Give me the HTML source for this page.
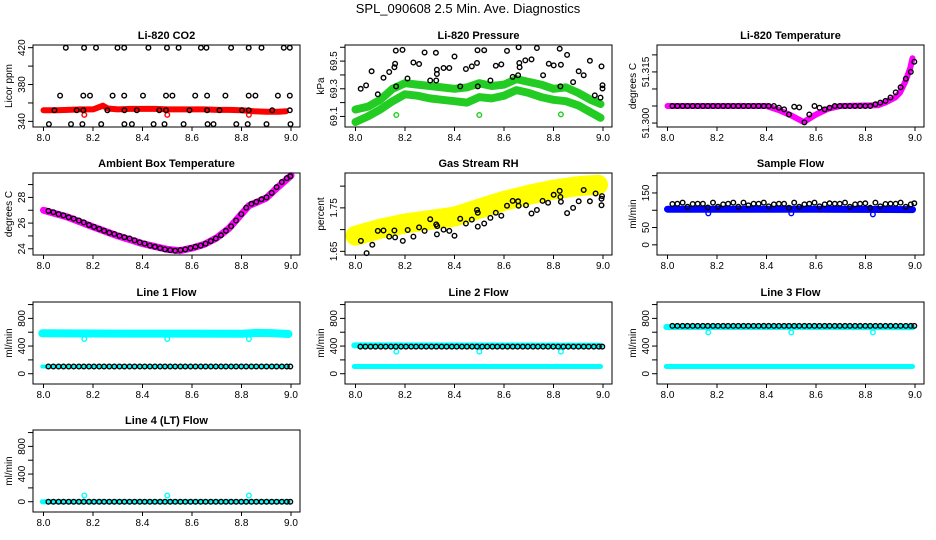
<!DOCTYPE html>
<html><head><meta charset="utf-8">
<style>
html,body{margin:0;padding:0;background:#fff;}
svg{display:block;font-family:"Liberation Sans",Arial,sans-serif;}
</style></head>
<body>
<svg id="chart" width="936" height="540" viewBox="0 0 936 540" xmlns="http://www.w3.org/2000/svg">
<text x="468" y="13" text-anchor="middle" font-size="13">SPL_090608  2.5 Min. Ave. Diagnostics</text>
</svg>
<script>
// ---- shared sample times (black markers) ----
const sampleTimes=[8.020,8.040,8.061,8.081,8.102,8.122,8.143,8.163,8.184,8.204,8.225,8.245,8.266,8.286,8.307,8.327,8.348,8.368,8.389,8.409,8.430,8.450,8.471,8.491,8.512,8.532,8.553,8.573,8.594,8.614,8.635,8.655,8.676,8.696,8.717,8.737,8.758,8.778,8.799,8.819,8.840,8.860,8.881,8.901,8.922,8.942,8.963,8.983,8.997];
const outlierTimes=[8.165,8.5,8.83];
const xTicks=[8.0,8.2,8.4,8.6,8.8,9.0];
const xTickLabels=["8.0","8.2","8.4","8.6","8.8","9.0"];

// ---- CO2 ----
const co2BandX=[8.0,8.05,8.1,8.15,8.2,8.22,8.24,8.26,8.3,8.35,8.4,8.45,8.5,8.55,8.6,8.65,8.7,8.75,8.8,8.85,8.9,8.95,8.98];
const co2BandY=[352,352,352.5,353,353,355,357,354,353,353.5,353.5,353.5,353,353,353,353,352.5,352.5,352,351,350.5,350.5,351];
const co2OutY=[347,347,347];
const co2BlackX=[8.09,8.164,8.212,8.299,8.326,8.424,8.499,8.546,8.636,8.658,8.758,8.829,8.881,8.971,8.995,
8.067,8.161,8.188,8.279,8.326,8.402,8.495,8.521,8.613,8.661,8.735,8.829,8.856,8.947,8.995,
8.044,8.134,8.161,8.258,8.327,8.377,8.468,8.495,8.59,8.661,8.711,8.802,8.829,8.924,8.995,
8.022,8.111,8.157,8.233,8.327,8.357,8.445,8.489,8.566,8.663,8.687,8.779,8.825,8.901,8.998];
const co2BlackY=[420,420,420,420,420,420,420,420,420,420,420,420,420,420,420,
368,368,368,368,368,368,368,368,368,368,368,368,368,368,368,
352,352,352,352,352,352,352,352,352,352,352,352,352,352,352,
337,337,337,337,337,337,337,337,337,337,337,337,337,337,337];

// ---- Pressure ----
const presBandX=[8.0,8.05,8.1,8.15,8.2,8.25,8.3,8.35,8.4,8.45,8.5,8.55,8.6,8.65,8.7,8.75,8.8,8.85,8.9,8.95,8.99];
const presUpperY=[69.15,69.17,69.22,69.30,69.34,69.33,69.32,69.31,69.30,69.31,69.34,69.32,69.33,69.37,69.35,69.33,69.30,69.31,69.27,69.22,69.19];
const presLowerY=[69.06,69.10,69.15,69.21,69.26,69.25,69.23,69.22,69.21,69.20,69.24,69.23,69.25,69.29,69.27,69.24,69.22,69.21,69.18,69.13,69.09];
const presOutY=[69.11,69.11,69.115];
const presBlackX=[8.021,8.043,8.065,8.090,8.113,8.136,8.157,8.160,8.163,8.164,8.190,8.210,8.234,8.257,8.279,8.302,8.325,8.326,8.329,8.329,8.356,8.379,8.400,8.423,8.446,8.470,8.491,8.493,8.494,8.520,8.545,8.567,8.589,8.612,8.635,8.657,8.659,8.662,8.663,8.686,8.711,8.733,8.758,8.781,8.801,8.825,8.828,8.830,8.855,8.879,8.902,8.922,8.947,8.967,8.990,8.994,8.998,8.998];
const presBlackY=[69.300,69.324,69.426,69.260,69.379,69.421,69.455,69.481,69.576,69.317,69.581,69.374,69.490,69.479,69.562,69.360,69.560,69.360,69.438,69.407,69.450,69.450,69.533,69.317,69.443,69.462,69.486,69.579,69.317,69.579,69.360,69.467,69.476,69.574,69.386,69.398,69.600,69.486,69.455,69.505,69.512,69.595,69.398,69.481,69.469,69.590,69.317,69.474,69.545,69.348,69.426,69.398,69.502,69.252,69.236,69.462,69.326,69.302];

// ---- Li-820 Temperature ----
const tempBandX=[8.0,8.2,8.4,8.45,8.5,8.55,8.6,8.65,8.7,8.85,8.88,8.92,8.94,8.96,8.98,8.99];
const tempBandY=[51.305,51.305,51.305,51.3038,51.3022,51.3003,51.3025,51.3042,51.305,51.3052,51.306,51.3075,51.309,51.312,51.316,51.319];
const tempBlackY=[51.305,51.305,51.305,51.305,51.305,51.305,51.305,51.305,51.305,51.305,51.305,51.305,51.305,51.305,51.305,51.305,51.305,51.305,51.305,51.305,51.305,51.3045,51.304,51.3025,51.3048,51.3046,51.3002,51.3025,51.305,51.3045,51.304,51.3045,51.305,51.305,51.305,51.305,51.305,51.305,51.305,51.305,51.3055,51.306,51.3065,51.3075,51.309,51.3105,51.313,51.315,51.318];

// ---- Ambient Box Temperature ----
const ambBandX=[8.0,8.1,8.2,8.3,8.4,8.5,8.55,8.6,8.65,8.7,8.75,8.8,8.83,8.86,8.9,8.95,9.0];
const ambBandY=[27.0,26.45,25.7,25.0,24.4,23.95,23.85,24.05,24.35,24.85,25.6,26.7,27.35,27.6,27.95,28.85,29.7];
const ambBlackY=[26.95,26.85,26.7,26.6,26.45,26.35,26.2,26.05,25.85,25.7,25.55,25.4,25.25,25.15,25.0,24.9,24.8,24.65,24.5,24.4,24.25,24.15,24.05,23.95,23.9,23.85,23.9,23.95,24.05,24.15,24.25,24.4,24.6,24.8,25.05,25.4,25.75,26.2,26.7,27.2,27.5,27.65,27.85,28.0,28.35,28.8,29.2,29.5,29.65];

// ---- Gas Stream RH ----
const rhBandX=[8.0,8.1,8.2,8.3,8.4,8.5,8.6,8.7,8.8,8.9,8.98];
const rhBandY=[1.686,1.702,1.714,1.722,1.730,1.748,1.766,1.780,1.792,1.800,1.803];
const rhBlackX=[8.022,8.045,8.068,8.090,8.113,8.136,8.157,8.160,8.191,8.211,8.234,8.257,8.279,8.302,8.326,8.329,8.330,8.356,8.379,8.400,8.423,8.446,8.470,8.491,8.494,8.494,8.520,8.545,8.567,8.589,8.612,8.635,8.657,8.659,8.689,8.711,8.733,8.756,8.778,8.801,8.825,8.828,8.830,8.855,8.879,8.902,8.922,8.947,8.970,8.994,8.994,8.996];
const rhBlackY=[1.674,1.646,1.665,1.697,1.698,1.684,1.698,1.682,1.674,1.699,1.684,1.705,1.697,1.724,1.712,1.689,1.708,1.700,1.697,1.686,1.725,1.714,1.723,1.745,1.707,1.739,1.714,1.727,1.739,1.732,1.755,1.766,1.765,1.755,1.756,1.737,1.745,1.766,1.762,1.780,1.789,1.775,1.764,1.738,1.750,1.765,1.791,1.765,1.783,1.771,1.756,1.777];

// ---- Sample Flow ----
const sfBandX=[8.0,8.3,8.6,8.99];
const sfBandY=[103,103,103,102];
const sfOutY=[91,91,88];
const sfBlackY=[118,119,122,110,118,119,119,108,122,110,117,119,122,110,122,114,119,119,122,111,117,119,119,107,122,110,117,119,122,111,117,120,119,119,122,110,117,119,120,107,122,111,118,119,119,122,110,117,120];

// ---- Line flows ----
const l1UpperX=[7.995,8.2,8.4,8.6,8.8,8.86,8.92,8.99];
const l1UpperY=[585,582,580,580,578,590,588,575];
const lowerBandX=[7.995,8.99];
const l1LowerY=[105,105];
const l1OutY=[502,502,502];
const l1BlackY=[105,105,105,105,105,105,105,105,105,105,105,105,105,105,105,105,105,105,105,105,105,105,105,105,105,105,105,105,105,105,105,105,105,105,105,105,105,105,105,105,105,105,105,105,105,105,105,105,105];
const l2UpperX=[7.995,8.5,8.99];
const l2UpperY=[410,408,405];
const l2LowerY=[105,105];
const l2OutY=[320,320,320];
const l2BlackY=[392,392,392,392,392,392,392,392,392,392,392,392,392,392,392,392,392,392,392,392,392,392,392,392,392,392,392,392,392,392,392,392,392,392,392,392,392,392,392,392,392,392,392,392,392,392,392,392,392];
const l3UpperX=[7.995,8.5,8.99];
const l3UpperY=[675,675,672];
const l3LowerY=[105,105];
const l3OutY=[598,598,598];
const l3BlackY=[692,692,692,692,692,692,692,692,692,692,692,692,692,692,692,692,692,692,692,692,692,692,692,692,692,692,692,692,692,692,692,692,692,692,692,692,692,692,692,692,692,692,692,692,692,692,692,692,692];
const l4BandY=[0,0];
const l4OutY=[90,90,90];
const l4BlackY=[0,0,0,0,0,0,0,0,0,0,0,0,0,0,0,0,0,0,0,0,0,0,0,0,0,0,0,0,0,0,0,0,0,0,0,0,0,0,0,0,0,0,0,0,0,0,0,0,0];

// ---- drawing ----
const NS="http://www.w3.org/2000/svg";
const svg=document.getElementById('chart');
const colLeft=[33,345,657], rowTop=[45,173,302,430], BW=267, BH=82;
function el(tag,attrs,parent){const e=document.createElementNS(NS,tag);for(const k in attrs)e.setAttribute(k,attrs[k]);(parent||svg).appendChild(e);return e;}

function makePanel(col,row,title,ylab,ymin,ymax,yTicks,yLabels,key){
  const L=colLeft[col],T=rowTop[row];
  const g=el('g',{});
  
  
  const p={L,T,g,sx:x=>L+10.5+(x-8)*247.5,sy:y=>T+BH-(y-ymin)/(ymax-ymin)*BH};
  const t=el('text',{x:L+BW/2,y:T-6,'text-anchor':'middle','font-size':11,'font-weight':'bold'},g);
  t.textContent=title;
  
  
  const yl=el('text',{x:0,y:0,'text-anchor':'middle','font-size':10,transform:`translate(${L-21},${T+BH/2}) rotate(-90)`},g);
  yl.textContent=ylab;
  
  
  xTicks.forEach((v,i)=>{
    const X=p.sx(v);
    const tk=el('line',{x1:X,x2:X,y1:T+BH,y2:T+BH+4,stroke:'#000','stroke-width':1},g);
    
    
    const lb=el('text',{x:X,y:T+BH+14,'text-anchor':'middle','font-size':10},g);
    lb.textContent=xTickLabels[i];
    
    
  });
  yTicks.forEach((v,i)=>{
    const Y=p.sy(v);
    const tk=el('line',{x1:L-5,x2:L,y1:Y,y2:Y,stroke:'#000','stroke-width':1},g);
    
    
    if(yLabels[i]){
      const lb=el('text',{x:0,y:0,'text-anchor':'middle','font-size':10,transform:`translate(${L-8},${Y}) rotate(-90)`},g);
      lb.textContent=yLabels[i];
      
      
    }
  });
  p.marks=el('g',{},g);
  
  
  const box=el('rect',{x:L,y:T,width:BW,height:BH,fill:'none',stroke:'#000','stroke-width':1},g);
  
  
  return p;
}
function band(p,xs,ys,color,w,name){
  const pts=xs.map((x,i)=>p.sx(x).toFixed(1)+','+p.sy(ys[i]).toFixed(1)).join(' ');
  const pl=el('polyline',{points:pts,fill:'none',stroke:color,'stroke-width':w,'stroke-linejoin':'round','stroke-linecap':'round'},p.marks);
  
  
}
function points(p,xs,ys,color,name){
  xs.forEach((x,i)=>{
    const c=el('circle',{cx:p.sx(x).toFixed(1),cy:p.sy(ys[i]).toFixed(1),r:2.3,fill:'none',stroke:color,'stroke-width':1.4},p.marks);
    
    
  });
}

const flowTicks=[0,200,400,600,800,1000], flowLabels=['0','','400','','800',''];

let p=makePanel(0,0,'Li-820 CO2','Licor ppm',333.9,422.9,[340,360,380,400,420],['340','','380','','420'],'co2');
band(p,co2BandX,co2BandY,'#ff0000',6,'co2-band');
points(p,outlierTimes,co2OutY,'#ff0000','co2-outlier');
points(p,co2BlackX,co2BlackY,'#000','co2-point');

p=makePanel(1,0,'Li-820 Pressure','kPa',69.0236,69.6164,[69.1,69.2,69.3,69.4,69.5,69.6],['69.1','','69.3','','69.5',''],'pressure');
band(p,presBandX,presUpperY,'#22cc22',8,'pressure-upper-band');
band(p,presBandX,presLowerY,'#22cc22',8,'pressure-lower-band');
points(p,outlierTimes,presOutY,'#22cc22','pressure-outlier');
points(p,presBlackX,presBlackY,'#000','pressure-point');

p=makePanel(2,0,'Li-820 Temperature','degrees C',51.29884,51.3229,[51.300,51.305,51.310,51.315,51.320],['51.300','','','51.315',''],'li820-temp');
band(p,tempBandX,tempBandY,'#ff00ff',6,'li820-temp-band');
points(p,sampleTimes,tempBlackY,'#000','li820-temp-point');

p=makePanel(0,1,'Ambient Box Temperature','degrees C',23.515,29.9,[24,25,26,27,28,29],['24','','26','','28',''],'ambient');
band(p,ambBandX,ambBandY,'#ff00ff',7,'ambient-band');
points(p,sampleTimes,ambBlackY,'#000','ambient-point');

p=makePanel(1,1,'Gas Stream RH','percent',1.6416,1.8302,[1.65,1.70,1.75,1.80],['1.65','','1.75',''],'rh');
band(p,rhBandX,rhBandY,'#ffff00',20,'rh-band');
points(p,rhBlackX,rhBlackY,'#000','rh-point');

p=makePanel(2,1,'Sample Flow','ml/min',-29.4,207.7,[0,50,100,150,200],['0','50','','150',''],'sample-flow');
band(p,sfBandX,sfBandY,'#0000ff',7,'sample-flow-band');
points(p,outlierTimes,sfOutY,'#0000ff','sample-flow-outlier');
points(p,sampleTimes,sfBlackY,'#000','sample-flow-point');

p=makePanel(0,2,'Line 1 Flow','ml/min',-148.6,1037,flowTicks,flowLabels,'line1');
band(p,l1UpperX,l1UpperY,'#00ffff',8,'line1-upper-band');
band(p,lowerBandX,l1LowerY,'#00ffff',4,'line1-lower-band');
points(p,outlierTimes,l1OutY,'#00ffff','line1-outlier');
points(p,sampleTimes,l1BlackY,'#000','line1-point');

p=makePanel(1,2,'Line 2 Flow','ml/min',-148.6,1037,flowTicks,flowLabels,'line2');
band(p,l2UpperX,l2UpperY,'#00ffff',6,'line2-upper-band');
band(p,lowerBandX,l2LowerY,'#00ffff',5,'line2-lower-band');
points(p,outlierTimes,l2OutY,'#00ffff','line2-outlier');
points(p,sampleTimes,l2BlackY,'#000','line2-point');

p=makePanel(2,2,'Line 3 Flow','ml/min',-148.6,1037,flowTicks,flowLabels,'line3');
band(p,l3UpperX,l3UpperY,'#00ffff',6,'line3-upper-band');
band(p,lowerBandX,l3LowerY,'#00ffff',5,'line3-lower-band');
points(p,outlierTimes,l3OutY,'#00ffff','line3-outlier');
points(p,sampleTimes,l3BlackY,'#000','line3-point');

p=makePanel(0,3,'Line 4 (LT) Flow','ml/min',-148.6,1037,flowTicks,flowLabels,'line4');
band(p,lowerBandX,l4BandY,'#00ffff',5,'line4-band');
points(p,outlierTimes,l4OutY,'#00ffff','line4-outlier');
points(p,sampleTimes,l4BlackY,'#000','line4-point');
</script>
</body></html>
